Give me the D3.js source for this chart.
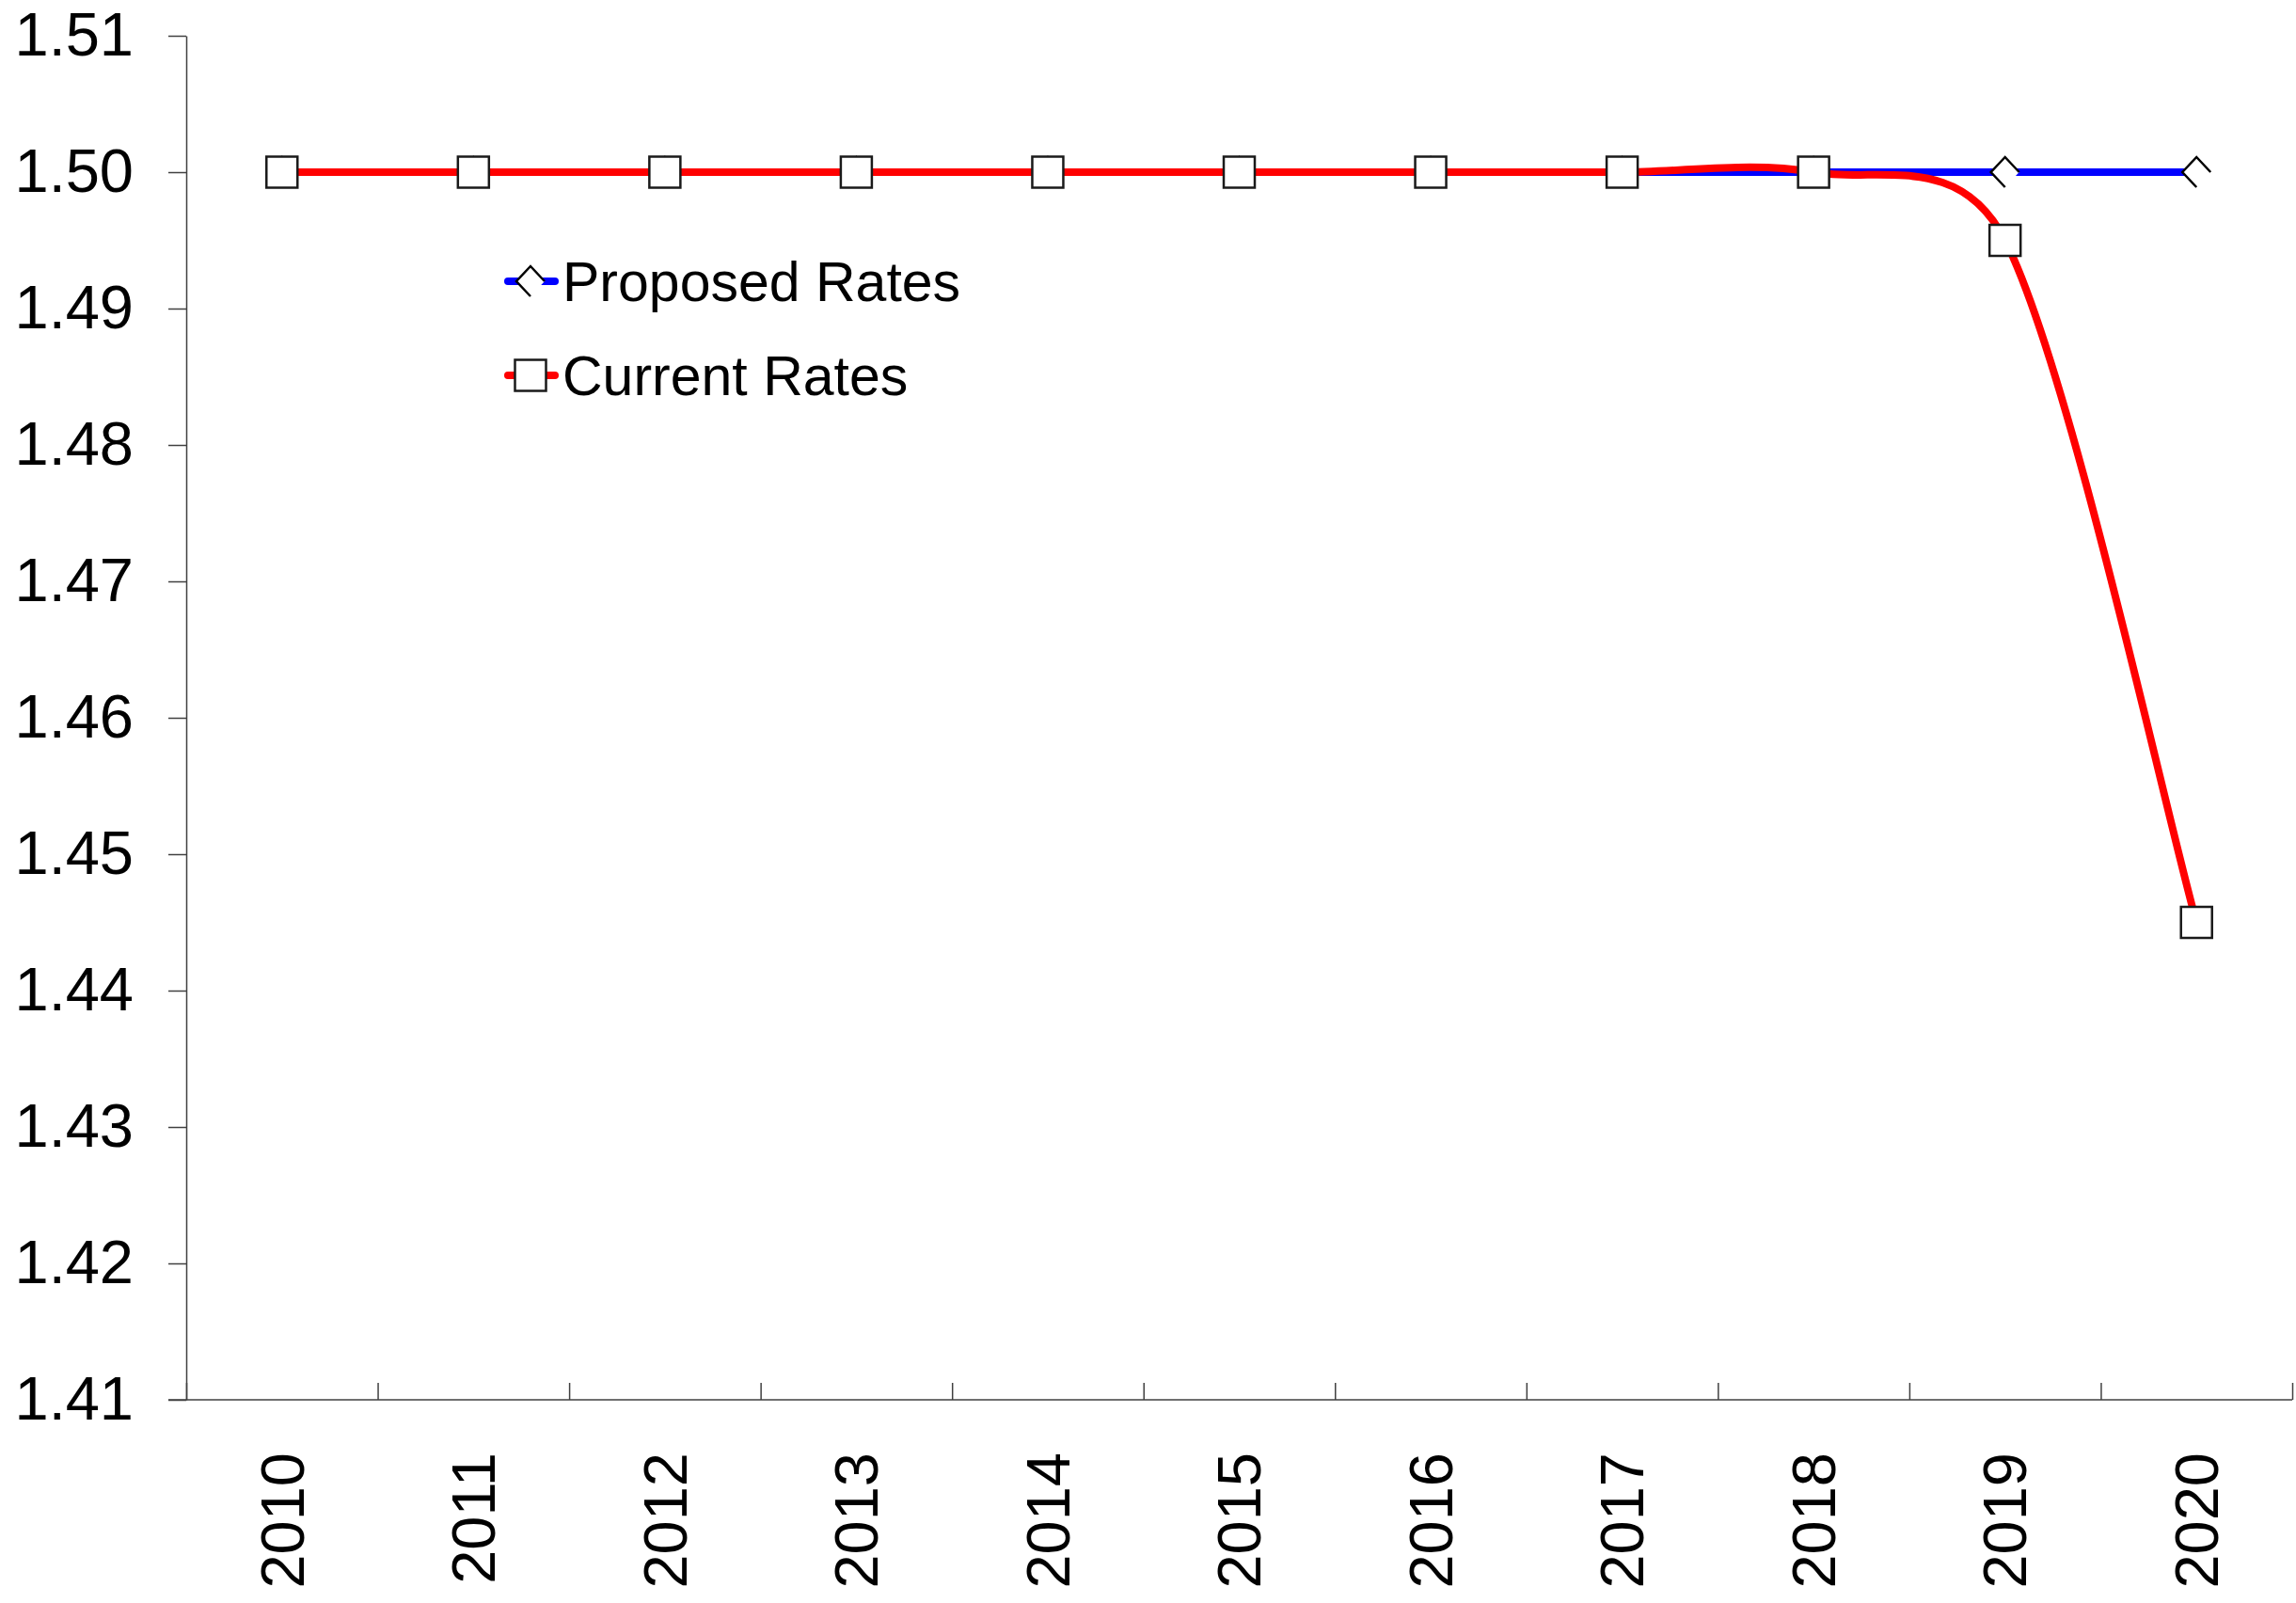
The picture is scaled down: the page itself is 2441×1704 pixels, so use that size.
<!DOCTYPE html>
<head>
  <meta charset="utf-8" />
  <script src="https://d3js.org/d3.v7.min.js"></script>
  <style>
    body {
      margin: 0;
      background: #fff;
    }
    text {
      font-family: "Liberation Sans", Arial, sans-serif;
      fill: #000;
    }
  </style>
</head>

<body>
  <script>
    var width = 2441,
      height = 1704;

    // data
    var years = ["2010", "2011", "2012", "2013", "2014", "2015", "2016", "2017", "2018", "2019", "2020"];
    var proposed = [1.5, 1.5, 1.5, 1.5, 1.5, 1.5, 1.5, 1.5, 1.5, 1.5, 1.5];
    var current = [1.5, 1.5, 1.5, 1.5, 1.5, 1.5, 1.5, 1.5, 1.5, 1.495, 1.445];
    var yTicks = [1.41, 1.42, 1.43, 1.44, 1.45, 1.46, 1.47, 1.48, 1.49, 1.5, 1.51];
    var seriesNames = ["Proposed Rates", "Current Rates"];

    // plot area (window.top is read-only, so no "top" here)
    var plotLeft = 198,
      plotRight = 2437,
      plotTop = 38,
      plotBottom = 1488;

    var svg = d3
      .select("body")
      .append("svg")
      .attr("width", width)
      .attr("height", height);

    var x = d3.scaleBand().domain(years).range([plotLeft, plotRight]).padding(0);
    var y = d3.scaleLinear().domain([1.41, 1.51]).range([plotBottom, plotTop]);
    var cx = function (d, i) {
      return x(years[i]) + x.bandwidth() / 2;
    };

    // y axis
    var yAxis = svg
      .append("g")
      .attr("transform", "translate(" + plotLeft + ",0)")
      .call(
        d3
          .axisLeft(y)
          .tickValues(yTicks)
          .tickSize(19)
          .tickSizeOuter(0)
          .tickPadding(37)
          .tickFormat(d3.format(".2f"))
      );
    yAxis.selectAll("text").style("font-size", "65px");
    yAxis.selectAll("line, path").attr("stroke", "#404040").attr("stroke-width", 1.5);

    // x axis: ticks on the category boundaries
    var xb = d3.scaleLinear().domain([0, years.length]).range([plotLeft, plotRight]);
    var xAxis = svg
      .append("g")
      .attr("transform", "translate(0," + plotBottom + ")")
      .call(
        d3
          .axisBottom(xb)
          .ticks(years.length)
          .tickSize(-18)
          .tickSizeOuter(0)
          .tickFormat("")
      );
    xAxis.select(".domain").remove();
    xAxis.selectAll("line").attr("stroke", "#404040").attr("stroke-width", 1.5);
    xAxis
      .append("line")
      .attr("x1", plotLeft - 19)
      .attr("x2", plotRight)
      .attr("stroke", "#404040")
      .attr("stroke-width", 1.5);

    svg
      .append("g")
      .selectAll("text")
      .data(years)
      .join("text")
      .attr("transform", (d) => "translate(" + (x(d) + x.bandwidth() / 2) + "," + (plotBottom + 56) + ") rotate(-90)")
      .attr("dy", "0.35em")
      .attr("text-anchor", "end")
      .style("font-size", "65px")
      .text((d) => d);

    // spreadsheet style smoothing: bezier with 1/6 tangents,
    // control arm capped at half the segment length
    function SmoothCurve(context) {
      this._context = context;
    }
    SmoothCurve.prototype = {
      areaStart: function () {},
      areaEnd: function () {},
      lineStart: function () {
        this._pts = [];
      },
      point: function (px, py) {
        this._pts.push([+px, +py]);
      },
      lineEnd: function () {
        var p = this._pts,
          n = p.length,
          c = this._context;
        if (!n) return;
        c.moveTo(p[0][0], p[0][1]);
        var dist = function (a, b) {
          return Math.hypot(b[0] - a[0], b[1] - a[1]);
        };
        for (var i = 0; i < n - 1; i++) {
          var p0 = p[Math.max(i - 1, 0)],
            p1 = p[i],
            p2 = p[i + 1],
            p3 = p[Math.min(i + 2, n - 1)];
          var d02 = dist(p0, p2),
            d12 = dist(p1, p2),
            d13 = dist(p1, p3);
          var f1 = 1 / 6,
            f2 = 1 / 6;
          if (d02 / 6 >= d12 / 2 && d02 > 0) f1 = d12 / d02 / 2;
          if (d13 / 6 >= d12 / 2 && d13 > 0) f2 = d12 / d13 / 2;
          c.bezierCurveTo(
            p1[0] + (p2[0] - p0[0]) * f1,
            p1[1] + (p2[1] - p0[1]) * f1,
            p2[0] - (p3[0] - p1[0]) * f2,
            p2[1] - (p3[1] - p1[1]) * f2,
            p2[0],
            p2[1]
          );
        }
      },
    };
    var curveSmooth = function (context) {
      return new SmoothCurve(context);
    };

    var line = d3
      .line()
      .x(cx)
      .y((d) => y(d))
      .curve(curveSmooth);

    var diamondFill = "M-15,0L0,-16L15,0L0,16Z";
    var diamondStroke = "M0,16L-15,0L0,-16L15,0";

    function diamond(g) {
      g.append("path").attr("d", diamondFill).attr("fill", "#fff");
      g.append("path")
        .attr("d", diamondStroke)
        .attr("fill", "none")
        .attr("stroke", "#000")
        .attr("stroke-width", 2.5);
    }
    function square(g) {
      g.append("rect")
        .attr("x", -16.5)
        .attr("y", -16.5)
        .attr("width", 33)
        .attr("height", 33)
        .attr("fill", "#fff")
        .attr("stroke", "#1a1a1a")
        .attr("stroke-width", 2.5);
    }

    svg
      .append("path")
      .datum(proposed)
      .attr("d", line)
      .attr("fill", "none")
      .attr("stroke", "#0000ff")
      .attr("stroke-width", 8);

    svg
      .append("g")
      .selectAll("g")
      .data(proposed)
      .join("g")
      .attr("transform", (d, i) => "translate(" + cx(d, i) + "," + y(d) + ")")
      .each(function () {
        diamond(d3.select(this));
      });

    svg
      .append("path")
      .datum(current)
      .attr("d", line)
      .attr("fill", "none")
      .attr("stroke", "#ff0000")
      .attr("stroke-width", 8);

    svg
      .append("g")
      .selectAll("g")
      .data(current)
      .join("g")
      .attr("transform", (d, i) => "translate(" + cx(d, i) + "," + y(d) + ")")
      .each(function () {
        square(d3.select(this));
      });

    // legend
    var legendColors = ["#0000ff", "#ff0000"];
    var legend = svg
      .append("g")
      .selectAll("g")
      .data(seriesNames)
      .join("g")
      .attr("transform", (d, i) => "translate(0," + (299 + i * 100) + ")");

    legend
      .append("line")
      .attr("x1", 540)
      .attr("x2", 590)
      .attr("stroke", (d, i) => legendColors[i])
      .attr("stroke-width", 8)
      .attr("stroke-linecap", "round");

    legend.each(function (d, i) {
      var m = d3.select(this).append("g").attr("transform", "translate(564,0)");
      if (i == 0) diamond(m);
      else square(m);
    });

    legend
      .append("text")
      .attr("x", 598)
      .attr("dy", "0.35em")
      .style("font-size", "59px")
      .text((d) => d);
  </script>
</body>
